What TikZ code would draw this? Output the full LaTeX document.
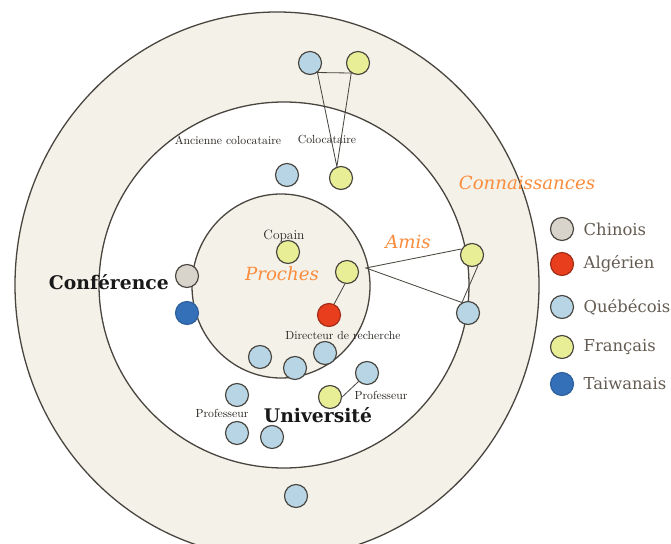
\documentclass[tikz,border=0pt]{standalone}
\usepackage{fontspec}
\newfontfamily\legendfont{DejaVu Serif}
\usetikzlibrary{positioning}

\definecolor{ringbeige}{RGB}{244,241,233}
\definecolor{edgegrey}{RGB}{72,68,62}
\definecolor{quebleu}{RGB}{183,213,228}
\definecolor{frjaune}{RGB}{231,238,150}
\definecolor{chgris}{RGB}{216,212,204}
\definecolor{algrouge}{RGB}{232,62,30}
\definecolor{twbleu}{RGB}{52,112,184}
\definecolor{cercleorange}{RGB}{250,140,60}
\definecolor{legendtext}{RGB}{100,92,82}
\definecolor{labeltext}{RGB}{40,36,32}

\begin{document}
\begin{tikzpicture}[x=0.03cm,y=-0.03cm,
  pers/.style={circle,draw=edgegrey,line width=1pt,minimum size=0.69cm,inner sep=0pt},
  quebecois/.style={pers,fill=quebleu},
  francais/.style={pers,fill=frjaune},
  chinois/.style={pers,fill=chgris},
  algerien/.style={pers,fill=algrouge,draw=algrouge!70!black},
  taiwanais/.style={pers,fill=twbleu,draw=twbleu!85!black},
  petit/.style={font=\fontsize{10}{10}\selectfont,text=labeltext,inner sep=0pt},
  cercle/.style={font=\legendfont\itshape\fontsize{15.5}{15.5}\selectfont,text=cercleorange,inner sep=0pt},
  lieu/.style={font=\legendfont\bfseries\fontsize{16}{16}\selectfont,text=black!90,inner sep=0pt},
  legende/.style={font=\legendfont\fontsize{14}{14}\selectfont,text=legendtext,inner sep=0pt},
  lien/.style={draw=edgegrey,line width=0.7pt}]
\useasboundingbox (0,0) rectangle (671,544);
\fill[white] (0,0) rectangle (671,544);

% cercles
\draw[fill=ringbeige,draw=edgegrey,line width=1.1pt] (277,285) ellipse [x radius=262,y radius=273];
\draw[fill=white,draw=edgegrey,line width=1.1pt] (284,285) ellipse [x radius=185,y radius=183];
\draw[fill=ringbeige,draw=edgegrey,line width=1.1pt] (281,286) ellipse [x radius=89,y radius=92];

\node[cercle] at (282,274) {Proches};
\node[cercle] at (408,242) {Amis};
\node[cercle] at (527,183) {Connaissances};

% colocataires
\node[quebecois] (colocQ) at (310,63) {};
\node[francais] (colocF) at (358,63) {};
\node[quebecois] (anccoloc) at (287,175) {};
\node[francais] (coloc) at (341,178) {};
\node[petit] at (228,140) {Ancienne colocataire};
\node[petit] at (327,140) {Colocataire};
\draw[lien] (coloc.110) -- (colocQ.-52) -- (colocF.-124) -- cycle;

% proches
\node[francais] (copain) at (288,252) {};
\node[petit,font=\fontsize{11.5}{11.5}\selectfont] at (284,236) {Copain};
\node[francais] (procheF) at (347,272) {};
\node[algerien] (directeur) at (329,315) {};
\node[petit] at (343,335) {Directeur de recherche};
\draw[lien] (procheF.-100) -- (directeur.65);

% amis
\node[francais] (amiF) at (472,255) {};
\node[quebecois] (amiQ) at (468,313) {};
\coordinate (amisjoint) at (366,268);
\draw[lien] (amiF.150) -- (amisjoint) -- (amiQ.120) -- (amiF.-60);

% conference
\node[chinois] (confC) at (187,276) {};
\node[taiwanais] (confT) at (187,313) {};
\node[lieu,anchor=east] (conf) at (169,282) {Conférence};

% universite
\node[quebecois] (univA) at (260,357) {};
\node[quebecois] (univB) at (295,368) {};
\node[quebecois] (univC) at (325,353) {};
\node[quebecois] (univD) at (367,373) {};
\node[francais] (profF) at (330,397) {};
\node[quebecois] (univE) at (237,395) {};
\node[quebecois] (univF) at (237,433) {};
\node[quebecois] (univG) at (272,437) {};
\node[petit] at (381,395) {Professeur};
\node[petit] at (222,413) {Professeur};
\node[lieu] (univ) at (318,415) {Université};
\draw[lien] (profF.east) -- (univD.-135);

\node[quebecois] (connQ) at (296,496) {};

% legende
\foreach \nat/\texte/\y in {chinois/Chinois/229,algerien/Algérien/264,quebecois/Québécois/307,francais/Français/347,taiwanais/Taiwanais/384}{
  \node[\nat] (leg\nat) at (562,\y) {};
  \node[legende,right=0.28cm of leg\nat] {\texte};
}
\end{tikzpicture}
\end{document}
